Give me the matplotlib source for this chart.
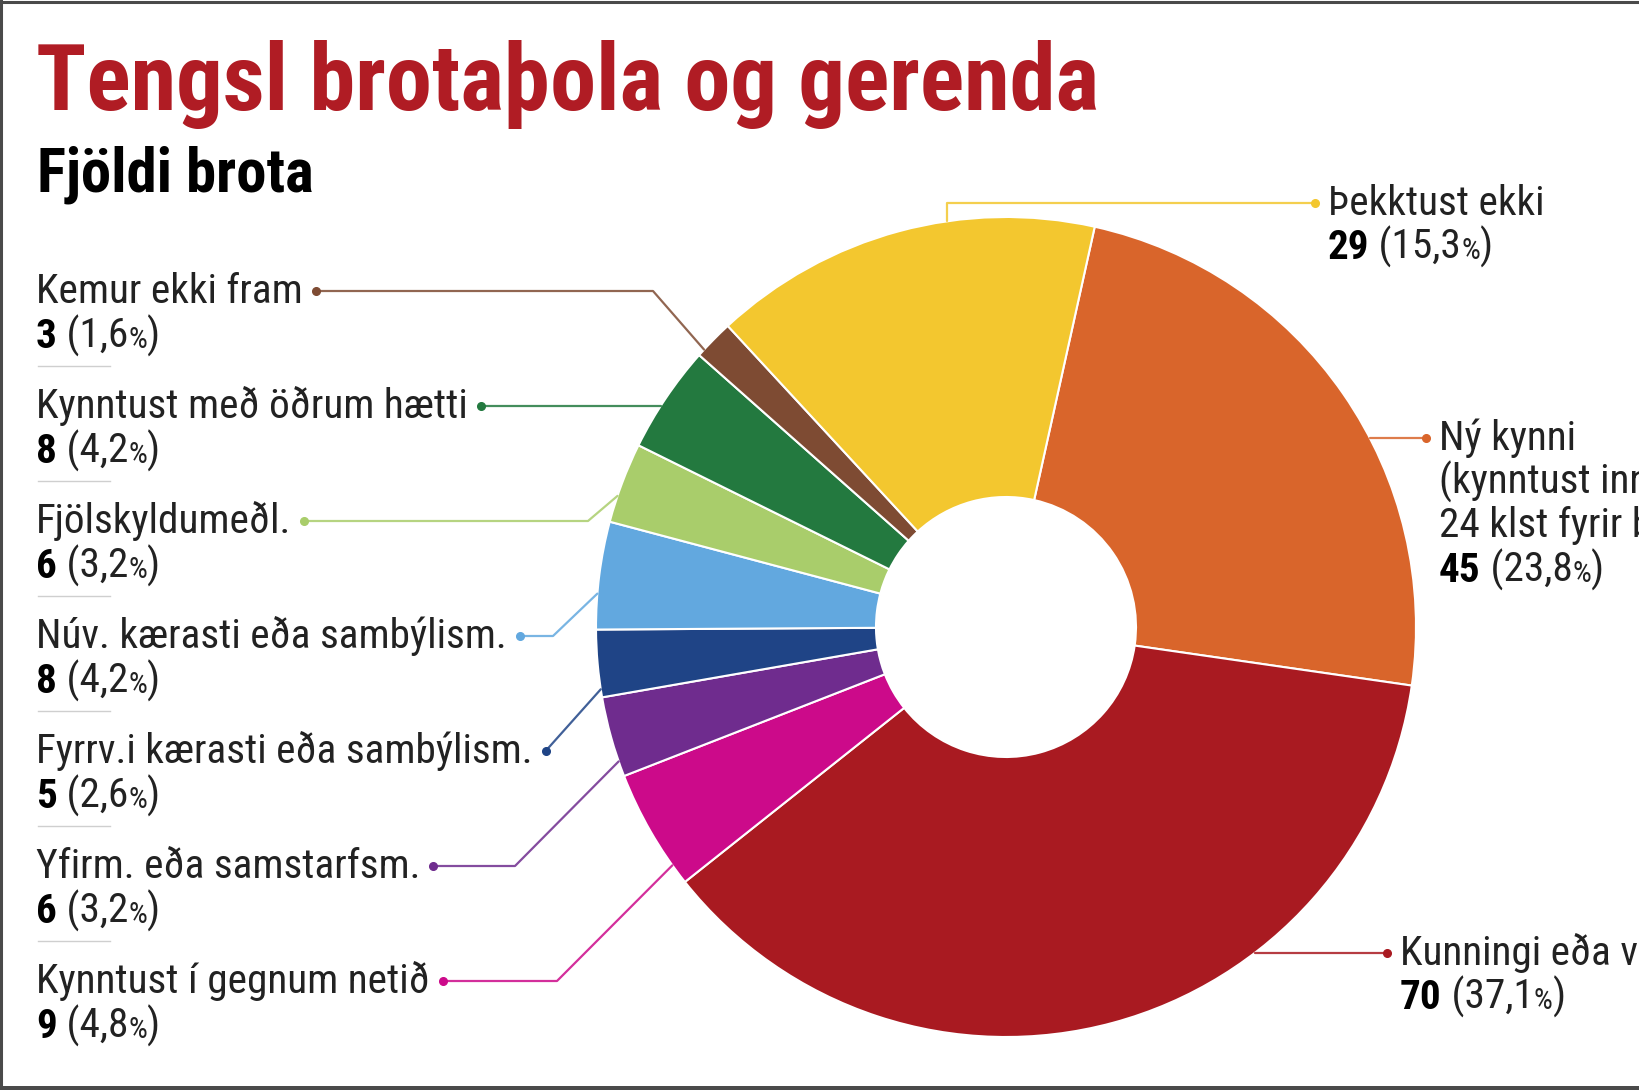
import matplotlib
matplotlib.use("Agg")
import matplotlib.pyplot as plt
import numpy as np

# categories in pie order (clockwise from the top, starting with the orange slice)
cats = [
    ["Ný kynni", "(kynntust innan", "24 klst fyrir brot)"],
    ["Kunningi eða vinur"],
    ["Kynntust í gegnum netið"],
    ["Yfirm. eða samstarfsm."],
    ["Fyrrv.i kærasti eða sambýlism."],
    ["Núv. kærasti eða sambýlism."],
    ["Fjölskyldumeðl."],
    ["Kynntust með öðrum hætti"],
    ["Kemur ekki fram"],
    ["Þekktust ekki"],
]
counts = [45, 70, 9, 6, 5, 8, 6, 8, 3, 29]
pcts = ["23,8", "37,1", "4,8", "3,2", "2,6", "4,2", "3,2", "4,2", "1,6", "15,3"]
colors = ["#D9652B", "#A91A21", "#CC0A8A", "#6F2C8E", "#1F4486", "#62A8DF",
          "#A9CD6B", "#23793F", "#7E4B33", "#F3C72F"]

title = "Tengsl brotaþola og gerenda"
subtitle = "Fjöldi brota"

FONT = ["Roboto Condensed", "Barlow Semi Condensed", "Asap Condensed", "Roboto", "DejaVu Sans"]
plt.rcParams["font.family"] = FONT

W, H = 1640, 1090
fig = plt.figure(figsize=(W / 100, H / 100), dpi=100)
ax = fig.add_axes([0, 0, 1, 1])
renderer = fig.canvas.get_renderer()

cx, cy, R, r = 1006, 627, 410, 130
wedges, _ = ax.pie(counts, colors=colors, startangle=-77.5, counterclock=True,
                   radius=R, center=(cx, cy),
                   wedgeprops=dict(width=R - r, edgecolor="white", linewidth=1.5))
ax.set_xlim(0, W)
ax.set_ylim(H, 0)
ax.set_aspect("auto")
ax.axis("off")


def width_of(t):
    return t.get_window_extent(renderer).width


# sizes fitted to the widths in the reference
probe = ax.text(0, 0, "Kynntust með öðrum hætti", fontsize=27)
body = 27 * 432 / width_of(probe)
probe.remove()

t = ax.text(36, 110, title, fontsize=60, fontweight="black", color="#B01C24", va="baseline")
t.set_fontsize(60 * 1064 / width_of(t))
s = ax.text(37, 191, subtitle, fontsize=36, fontweight="bold", color="black", va="baseline")
s.set_fontsize(36 * 277 / width_of(s))


def value_line(x, y, i):
    b = ax.text(x, y, str(counts[i]), fontsize=body, fontweight="bold", va="baseline")
    a = ax.annotate(" (" + pcts[i], xy=(1, y), xycoords=(b, "data"), fontsize=body,
                    va="baseline", ha="left", color="#222222")
    p = ax.annotate("%", xy=(1, y), xycoords=(a, "data"), fontsize=body * 0.72,
                    va="baseline", ha="left", color="#222222")
    ax.annotate(")", xy=(1, y), xycoords=(p, "data"), fontsize=body,
                va="baseline", ha="left", color="#222222")


def anchor(i, frac):
    w = wedges[i]
    th = np.deg2rad(w.theta1 + frac * (w.theta2 - w.theta1))
    return cx + R * np.cos(th), cy + R * np.sin(th)


def leader(pts, color):
    xs, ys = zip(*pts)
    ax.plot(xs, ys, color=color, lw=1.6, alpha=0.85, solid_capstyle="round")
    ax.plot(xs[0], ys[0], "o", color=color, ms=5.5, mec=color)


# left side labels, top to bottom: index, elbow x, mode, anchor fraction
left = [(8, 653, "elbow", 0.18), (7, None, "hline", 0), (6, 588, "elbow", 0.33),
        (5, 553, "elbow", 0.33), (4, None, "direct", 0.12), (3, 515, "elbow", 0.19),
        (2, 557, "elbow", 0.17)]
lx, base0, step, lh = 36, 303, 115, 45
for k, (i, ex, mode, frac) in enumerate(left):
    y = base0 + step * k
    t1 = ax.text(lx, y, cats[i][0], fontsize=body, va="baseline", color="#222222")
    value_line(lx, y + lh, i)
    if k < len(left) - 1:
        ax.plot([38, 110], [y + 63, y + 63], color="#cfcfcf", lw=1)
    bb = t1.get_window_extent(renderer)
    dx = bb.x1 + 13
    dy = y - 12
    if mode == "elbow":
        pts = [(dx, dy), (ex, dy), anchor(i, frac)]
    elif mode == "direct":
        pts = [(dx, dy), anchor(i, frac)]
    else:
        pts = [(dx, dy), (cx - np.sqrt(R ** 2 - (dy - cy) ** 2), dy)]
    leader(pts, colors[i])

# right side labels: index, text x, first baseline
right = [(9, 1328, 215), (0, 1439, 450), (1, 1400, 965)]
for i, x, y in right:
    for j, line in enumerate(cats[i]):
        ax.text(x, y + 44 * j, line, fontsize=body, va="baseline", color="#222222")
    value_line(x, y + 44 * len(cats[i]), i)
    dy = y - 12
    dx = x - 13
    if i == 9:
        ex = 947
        pts = [(dx, dy), (ex, dy), (ex, cy - np.sqrt(R ** 2 - (ex - cx) ** 2))]
    else:
        pts = [(dx, dy), (cx + np.sqrt(R ** 2 - (dy - cy) ** 2), dy)]
    leader(pts, colors[i])

# frame (left, top and bottom edges)
ax.plot([1.5, 1.5], [0, H], color="#4a4a4a", lw=2.2, clip_on=False)
ax.plot([0, W], [1.5, 1.5], color="#4a4a4a", lw=2.2, clip_on=False)
ax.plot([0, W], [H - 2.5, H - 2.5], color="#4a4a4a", lw=3.6, clip_on=False)

fig.savefig("out.png", dpi=100)
